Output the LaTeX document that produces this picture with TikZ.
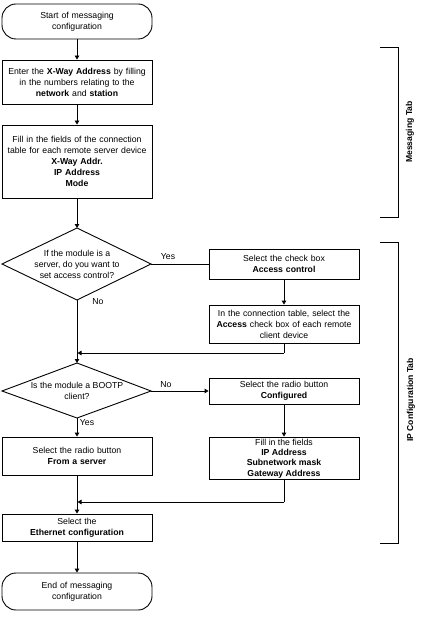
\documentclass[tikz,border=0pt]{standalone}
\usepackage{fontspec}
\setmainfont{Liberation Sans}
\usetikzlibrary{arrows.meta}
\begin{document}
\begin{tikzpicture}[x=1pt,y=-1pt,
  every node/.style={font=\fontsize{8.7}{11}\selectfont},
  box/.style={draw, line width=0.9pt, rectangle, minimum width=150pt, text width=148pt, align=center, inner sep=1pt},
  term/.style={box, rounded corners=14pt},
  dtext/.style={align=center, inner sep=0pt},
  lbl/.style={inner sep=0pt},
  tab/.style={rotate=90, font=\fontsize{8.6}{10}\selectfont\bfseries, inner sep=0pt},
  line/.style={line width=0.9pt},
  arr/.style={line, -{Triangle[length=4pt,width=4.5pt]}}
]
\useasboundingbox (0,0) rectangle (440,620);

% left column
\node[term, minimum height=35pt] (start) at (77,21.5) {Start of messaging\\configuration};
\node[box, minimum height=44pt] (addr) at (77,82) {Enter the \textbf{X-Way Address} by filling\\in the numbers relating to the\\\textbf{network} and \textbf{station}};
\node[box, minimum height=73pt] (fill) at (77,161.5) {Fill in the fields of the connection\\table for each remote server device\\\textbf{X-Way Addr.}\\\textbf{IP Address}\\\textbf{Mode}};

% diamond 1
\coordinate (d1t) at (77,228);
\coordinate (d1r) at (151,264);
\coordinate (d1b) at (77,300);
\coordinate (d1l) at (2,264);
\draw[line] (d1l) -- (d1t) -- (d1r) -- (d1b) -- cycle;
\node[dtext] (d1) at (77,264) {If the module is a\\server, do you want to\\set access control?};

% right upper
\node[box, minimum height=30pt] (chk) at (284,264) {Select the check box\\\textbf{Access control}};
\node[box, minimum height=38pt] (acc) at (284,324) {In the connection table, select the\\\textbf{Access} check box of each remote\\client device};

% diamond 2
\coordinate (d2t) at (77,363);
\coordinate (d2r) at (151,391);
\coordinate (d2b) at (77,418);
\coordinate (d2l) at (2,391);
\draw[line] (d2l) -- (d2t) -- (d2r) -- (d2b) -- cycle;
\node[dtext] (d2) at (77,391) {Is the module a BOOTP\\client?};

% right lower
\node[box, minimum height=26pt] (conf) at (284,391) {Select the radio button\\\textbf{Configured}};
\node[box, minimum height=42pt] (ipf) at (284,458) {};
\node[dtext, font=\fontsize{8.7}{10.3}\selectfont] (ipft) at (284,458.5) {Fill in the fields\\\textbf{IP Address}\\\textbf{Subnetwork mask}\\\textbf{Gateway Address}};

% left lower
\node[box, minimum height=38pt] (srv) at (77,456) {Select the radio button\\\textbf{From a server}};
\node[box, minimum height=27pt] (eth) at (77,527.5) {Select the\\\textbf{Ethernet configuration}};
\node[term, minimum height=37pt] (end) at (77,591.5) {End of messaging\\configuration};

% junction points
\coordinate (j1) at (77,353);
\coordinate (j1r) at (284,353);
\coordinate (j2) at (77,502);
\coordinate (j2r) at (284,502);

% connectors
\draw[arr] (start.south) -- (addr.north);
\draw[arr] (addr.south) -- (fill.north);
\draw[arr] (fill.south) -- (d1t);
\draw[line] (d1r) -- (chk.west);
\draw[arr] (chk.south) -- (acc.north);
\draw[line] (acc.south) -- (j1r);
\draw[arr] (j1r) -- ([xshift=0.5pt]j1);
\draw[arr] (d1b) -- (d2t);
\draw[arr] (d2r) -- (conf.west);
\draw[arr] (conf.south) -- (ipf.north);
\draw[arr] (d2b) -- (srv.north);
\draw[line] (ipf.south) -- (j2r);
\draw[arr] (j2r) -- ([xshift=0.5pt]j2);
\draw[arr] (srv.south) -- (eth.north);
\draw[arr] (eth.south) -- (end.north);

% labels
\node[lbl] (yes1) at (168,256.5) {Yes};
\node[lbl] (no1) at (98,302) {No};
\node[lbl] (no2) at (166,385) {No};
\node[lbl] (yes2) at (87,423) {Yes};

% brackets
\coordinate (m1) at (380,47);
\coordinate (m2) at (398,47);
\coordinate (m3) at (398,217);
\coordinate (m4) at (380,217);
\draw[line] (m1) -- (m2) -- (m3) -- (m4);
\node[tab] (mtab) at (410,132) {Messaging Tab};
\coordinate (i1) at (380,242);
\coordinate (i2) at (398,242);
\coordinate (i3) at (398,543);
\coordinate (i4) at (380,543);
\draw[line] (i1) -- (i2) -- (i3) -- (i4);
\node[tab] (itab) at (411,400) {IP Configuration Tab};
\end{tikzpicture}
\end{document}
